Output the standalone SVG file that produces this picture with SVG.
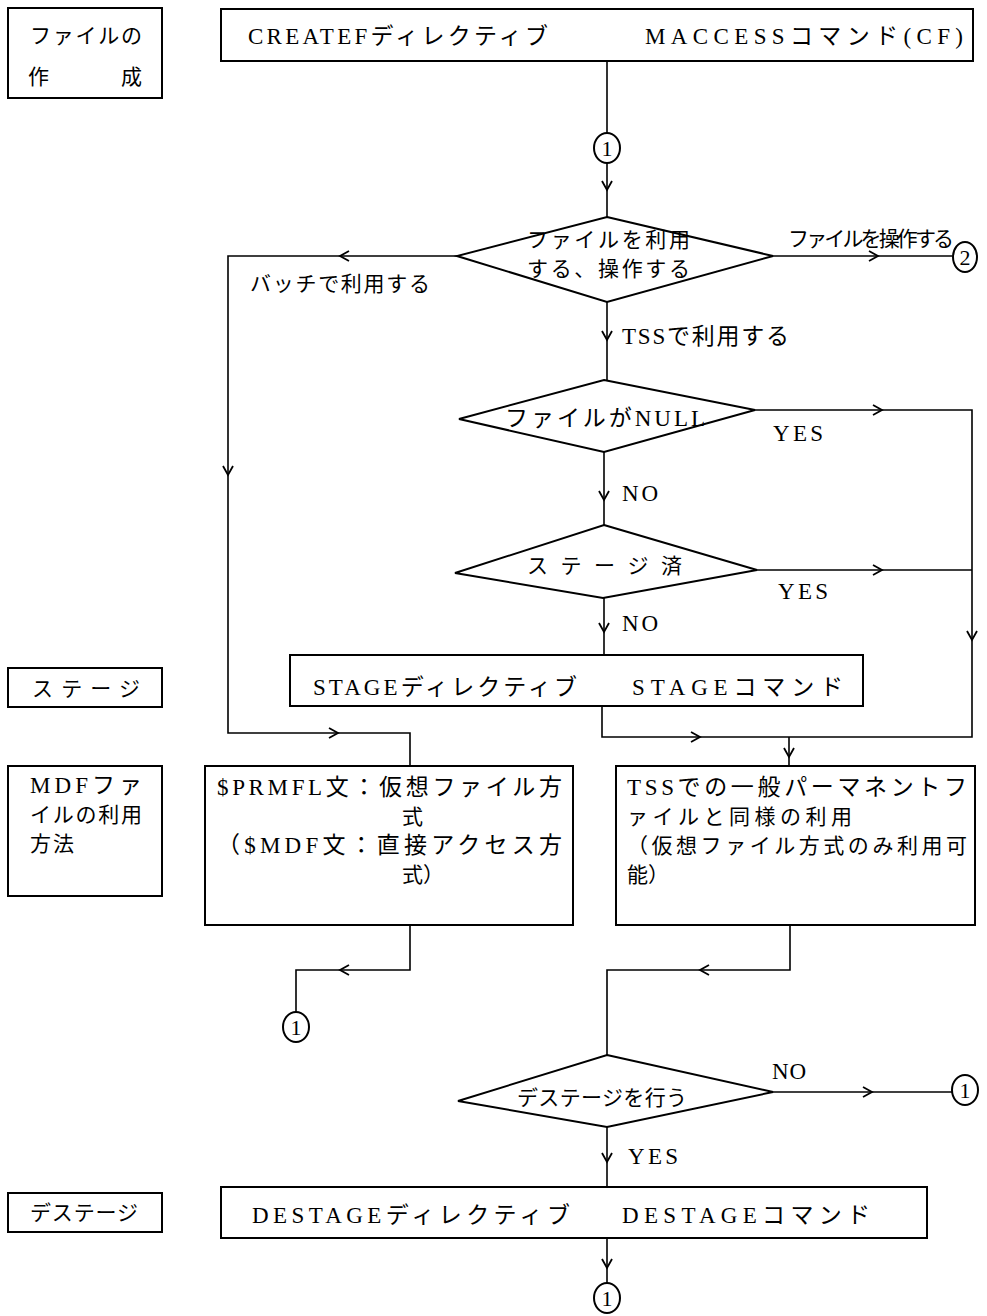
<svg xmlns="http://www.w3.org/2000/svg" xmlns:xlink="http://www.w3.org/1999/xlink" width="987" height="1316" viewBox="0 0 987 1316">
<style>
.bx{fill:#fff;stroke:#000;stroke-width:2}
.ln{fill:none;stroke:#000;stroke-width:1.6}
.t{font-family:"Liberation Serif","Noto Sans CJK JP",serif;font-size:23px;fill:#000}
.j{font-family:"Noto Sans CJK JP",sans-serif;font-size:21px;fill:#000}
.c{font-family:"Liberation Serif",serif;font-size:22px;fill:#000;text-anchor:middle}
</style>
<defs>
<path id="chev" d="M-9,-5 L0,0 L-9,5" fill="none" stroke="#000" stroke-width="1.8"/>
</defs>
<rect width="987" height="1316" fill="#fff"/>

<g id="connectors">
<path class="ln" d="M607,61 V133"/>
<path class="ln" d="M607,163 V217"/>
<use xlink:href="#chev" transform="translate(607,190) rotate(90)"/>
<path class="ln" d="M457,256 H228 V733 H410 V766"/>
<use xlink:href="#chev" transform="translate(340,256) rotate(180)"/>
<use xlink:href="#chev" transform="translate(228,475) rotate(90)"/>
<use xlink:href="#chev" transform="translate(338,733)"/>
<path class="ln" d="M773,256 H952"/>
<use xlink:href="#chev" transform="translate(878,256)"/>
<path class="ln" d="M607,302 V380"/>
<use xlink:href="#chev" transform="translate(607,340) rotate(90)"/>
<path class="ln" d="M755,410 H972 V737 H602 V706"/>
<use xlink:href="#chev" transform="translate(882,410)"/>
<use xlink:href="#chev" transform="translate(972,640) rotate(90)"/>
<use xlink:href="#chev" transform="translate(700,737)"/>
<path class="ln" d="M604,452 V525"/>
<use xlink:href="#chev" transform="translate(604,500) rotate(90)"/>
<path class="ln" d="M757,570 H972"/>
<use xlink:href="#chev" transform="translate(882,570)"/>
<path class="ln" d="M604,598 V655"/>
<use xlink:href="#chev" transform="translate(604,632) rotate(90)"/>
<path class="ln" d="M789,737 V766"/>
<use xlink:href="#chev" transform="translate(789,757) rotate(90)"/>
<path class="ln" d="M410,925 V970 H296 V1012"/>
<use xlink:href="#chev" transform="translate(340,970) rotate(180)"/>
<path class="ln" d="M790,925 V970 H607 V1055"/>
<use xlink:href="#chev" transform="translate(700,970) rotate(180)"/>
<path class="ln" d="M773,1092 H952"/>
<use xlink:href="#chev" transform="translate(872,1092)"/>
<path class="ln" d="M607,1127 V1187"/>
<use xlink:href="#chev" transform="translate(607,1162) rotate(90)"/>
<path class="ln" d="M607,1238 V1283"/>
<use xlink:href="#chev" transform="translate(607,1268) rotate(90)"/>
</g>

<g id="lbl-create">
<rect class="bx" x="8" y="8" width="154" height="90"/>
<text class="j" x="30" y="43" textLength="112">ファイルの</text>
<text class="j" x="28" y="84" textLength="114">作　　成</text>
</g>
<g id="box-create">
<rect class="bx" x="221" y="9" width="752" height="52"/>
<text class="t" x="248" y="44" textLength="300" font-size="24">CREATEFディレクティブ</text>
<text class="t" x="645" y="44" textLength="318" font-size="24">MACCESSコマンド(CF)</text>
</g>
<g id="conn1a">
<ellipse class="bx" cx="607" cy="148" rx="13" ry="15" stroke-width="1.6"/>
<text class="c" x="607" y="156">1</text>
</g>

<g id="dec-use">
<polygon class="bx" points="607,217 773,256 607,302 457,256"/>
<text class="j" x="527" y="247" textLength="163" font-size="19">ファイルを利用</text>
<text class="j" x="527" y="276" textLength="163" font-size="19">する、操作する</text>
</g>
<text class="j" x="788" y="246" textLength="166" font-size="19">ファイルを操作する</text>
<text class="j" x="250" y="291" textLength="180">バッチで利用する</text>
<g id="conn2">
<ellipse class="bx" cx="965" cy="257" rx="12" ry="15" stroke-width="1.6"/>
<text class="c" x="965" y="265">2</text>
</g>
<text class="t" x="622" y="344" textLength="167">TSSで利用する</text>

<g id="dec-null">
<polygon class="bx" points="604,380 755,410 604,452 459,419"/>
<text class="t" x="505" y="426" textLength="200">ファイルがNULL</text>
</g>
<text class="t" x="773" y="441" textLength="50" font-size="24">YES</text>
<text class="t" x="622" y="501" textLength="36" font-size="24">NO</text>

<g id="dec-staged">
<polygon class="bx" points="604,525 757,570 603,598 455,573"/>
<text class="j" x="527" y="573" textLength="155">ス テ ー ジ 済</text>
</g>
<text class="t" x="778" y="599" textLength="50" font-size="24">YES</text>
<text class="t" x="622" y="631" textLength="36" font-size="24">NO</text>

<g id="lbl-stage">
<rect class="bx" x="8" y="668" width="154" height="39"/>
<text class="j" x="32" y="696" textLength="108">ステージ</text>
</g>
<g id="box-stage">
<rect class="bx" x="290" y="655" width="573" height="51"/>
<text class="t" x="313" y="695" textLength="264">STAGEディレクティブ</text>
<text class="t" x="632" y="695" textLength="211">STAGEコマンド</text>
</g>

<g id="lbl-mdf">
<rect class="bx" x="8" y="766" width="154" height="130"/>
<text class="t" x="30" y="793" textLength="112">MDFファ</text>
<text class="j" x="30" y="822" textLength="112">イルの利用</text>
<text class="j" x="30" y="851" textLength="44">方法</text>
</g>
<g id="box-batch">
<rect class="bx" x="205" y="766" width="368" height="159"/>
<text class="t" x="217" y="795" textLength="345">$PRMFL文：仮想ファイル方</text>
<text class="j" x="402" y="824">式</text>
<text class="t" x="217" y="853" textLength="345">（$MDF文：直接アクセス方</text>
<text class="j" x="402" y="882">式）</text>
</g>
<g id="box-tss">
<rect class="bx" x="616" y="766" width="359" height="159"/>
<text class="t" x="627" y="795" textLength="340">TSSでの一般パーマネントフ</text>
<text class="j" x="627" y="824" textLength="225">ァイルと同様の利用</text>
<text class="j" x="627" y="853" textLength="340">（仮想ファイル方式のみ利用可</text>
<text class="j" x="627" y="882">能）</text>
</g>
<g id="conn1b">
<ellipse class="bx" cx="296" cy="1027" rx="13" ry="15" stroke-width="1.6"/>
<text class="c" x="296" y="1035">1</text>
</g>

<g id="dec-destage">
<polygon class="bx" points="607,1055 773,1092 607,1127 458,1101"/>
<text class="j" x="517" y="1105" textLength="170">デステージを行う</text>
</g>
<text class="t" x="772" y="1079" textLength="34" font-size="24">NO</text>
<g id="conn1c">
<ellipse class="bx" cx="965" cy="1090" rx="13" ry="15" stroke-width="1.6"/>
<text class="c" x="965" y="1098">1</text>
</g>
<text class="t" x="628" y="1164" textLength="50" font-size="24">YES</text>

<g id="lbl-destage">
<rect class="bx" x="8" y="1193" width="154" height="39"/>
<text class="j" x="30" y="1220" textLength="108">デステージ</text>
</g>
<g id="box-destage">
<rect class="bx" x="221" y="1187" width="706" height="51"/>
<text class="t" x="252" y="1223" textLength="318">DESTAGEディレクティブ</text>
<text class="t" x="622" y="1223" textLength="248">DESTAGEコマンド</text>
</g>
<g id="conn1d">
<ellipse class="bx" cx="607" cy="1298" rx="13" ry="15" stroke-width="1.6"/>
<text class="c" x="607" y="1306">1</text>
</g>
</svg>
